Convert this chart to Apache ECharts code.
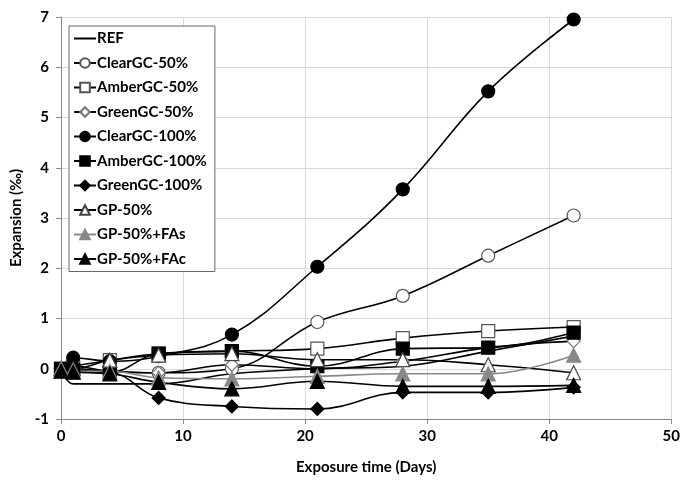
<!DOCTYPE html>
<html><head><meta charset="utf-8">
<script src="https://cdn.jsdelivr.net/npm/echarts@6/dist/echarts.min.js"></script>
<style>html,body{margin:0;padding:0;background:#fff}#c{width:683px;height:480px}</style>
</head><body><div id="c"></div>
<script>
var days = [0, 1, 4, 8, 14, 21, 28, 35, 42];
var seriesNames = ["REF","ClearGC-50%","AmberGC-50%","GreenGC-50%","ClearGC-100%","AmberGC-100%","GreenGC-100%","GP-50%","GP-50%+FAs","GP-50%+FAc"];
var ref      = [0, -0.3, -0.3, -0.3, -0.1, 0.0, 0.05, 0.35, 0.65];
var clear50  = [0, 0.05, -0.05, -0.08, 0.0, 0.93, 1.45, 2.25, 3.05];
var amber50  = [0, 0.05, 0.17, 0.3, 0.35, 0.4, 0.61, 0.75, 0.83];
var green50  = [0, 0.0, -0.05, -0.08, 0.08, 0.0, 0.15, 0.42, 0.55];
var clear100 = [0, 0.22, 0.15, 0.25, 0.68, 2.03, 3.57, 5.52, 6.95];
var amber100 = [0, -0.02, -0.07, 0.3, 0.35, 0.05, 0.4, 0.42, 0.72];
var green100 = [0, -0.05, -0.07, -0.58, -0.75, -0.8, -0.47, -0.47, -0.37];
var gp50     = [0, 0.0, 0.17, 0.27, 0.3, 0.18, 0.18, 0.08, -0.08];
var gp50s    = [0, -0.05, -0.05, -0.18, -0.2, -0.15, -0.1, -0.1, 0.27];
var gp50c    = [-0.05, -0.07, -0.1, -0.27, -0.4, -0.25, -0.35, -0.35, -0.33];
var xTicks = [0, 10, 20, 30, 40, 50];
var yTicks = [-1, 0, 1, 2, 3, 4, 5, 6, 7];

function pairs(v){ return days.map(function(d,i){ return [d, v[i]]; }); }
var FONT = "Lato";
function mk(name, vals, symbol, size, fill, border, lineColor){
  return {
    name: name, type: 'line', smooth: 0.4, data: pairs(vals),
    symbol: symbol, symbolSize: size, showSymbol: symbol !== 'none',
    lineStyle: {color: lineColor || '#000', width: 1.6},
    itemStyle: {color: fill, borderColor: border, borderWidth: 1.2},
    emphasis: {disabled: true}, z: 2
  };
}
var legendData = seriesNames.map(function(n, i){
  return i === 0 ? {name: n, itemStyle: {opacity: 0}} : {name: n};
});
var chart = echarts.init(document.getElementById('c'));
chart.setOption({
  animation: false,
  backgroundColor: '#fff',
  grid: {left: 61, right: 7, top: 17, bottom: 60, containLabel: false},
  legend: {
    orient: 'vertical', left: 69, top: 26, data: legendData,
    backgroundColor: '#fff', borderColor: '#666', borderWidth: 1,
    padding: [5, 8, 5, 4], itemGap: 9.5, itemWidth: 22, itemHeight: 12,
    textStyle: {fontFamily: FONT, fontWeight: 'bold', fontSize: 15, lineHeight: 13, color: '#000', padding: [0,0,0,-4]}
  },
  xAxis: {
    type: 'value', min: 0, max: 50, interval: 10,
    name: 'Exposure time (Days)', nameLocation: 'middle', nameGap: 41,
    nameTextStyle: {fontFamily: FONT, fontWeight: 'bold', fontSize: 15, color: '#000'},
    axisLine: {onZero: false, lineStyle: {color: '#888', width: 1}},
    axisTick: {show: true, length: 5, lineStyle: {color: '#888'}},
    axisLabel: {fontFamily: FONT, fontWeight: 'bold', fontSize: 15, color: '#000', margin: 10,
      formatter: function(v){ return xTicks.indexOf(v) >= 0 ? String(v) : ''; }},
    splitLine: {show: true, lineStyle: {color: '#d9d9d9', width: 1}}
  },
  yAxis: {
    type: 'value', min: -1, max: 7, interval: 1,
    name: 'Expansion (‰)', nameLocation: 'middle', nameGap: 32, nameRotate: 90,
    nameTextStyle: {fontFamily: FONT, fontWeight: 'bold', fontSize: 15, color: '#000'},
    axisLine: {show: true, lineStyle: {color: '#888', width: 1}},
    axisTick: {show: true, length: 5, lineStyle: {color: '#888'}},
    axisLabel: {fontFamily: FONT, fontWeight: 'bold', fontSize: 15, color: '#000', margin: 12,
      formatter: function(v){ return yTicks.indexOf(v) >= 0 ? String(v) : ''; }},
    splitLine: {show: true, lineStyle: {color: '#d9d9d9', width: 1}}
  },
  series: [
    mk(seriesNames[0], ref, 'none', 0, '#000', '#000'),
    mk(seriesNames[1], clear50, 'circle', 13, '#fff', '#555'),
    mk(seriesNames[2], amber50, 'rect', 13, '#fff', '#555'),
    mk(seriesNames[3], green50, 'diamond', 13, '#fff', '#777'),
    mk(seriesNames[4], clear100, 'circle', 13, '#000', '#000'),
    mk(seriesNames[5], amber100, 'rect', 13, '#000', '#000'),
    mk(seriesNames[6], green100, 'diamond', 13, '#000', '#000'),
    mk(seriesNames[7], gp50, 'triangle', 14, '#fff', '#444'),
    mk(seriesNames[8], gp50s, 'triangle', 14, '#888', '#888', '#888'),
    mk(seriesNames[9], gp50c, 'triangle', 14, '#000', '#000')
  ]
});
</script></body></html>
